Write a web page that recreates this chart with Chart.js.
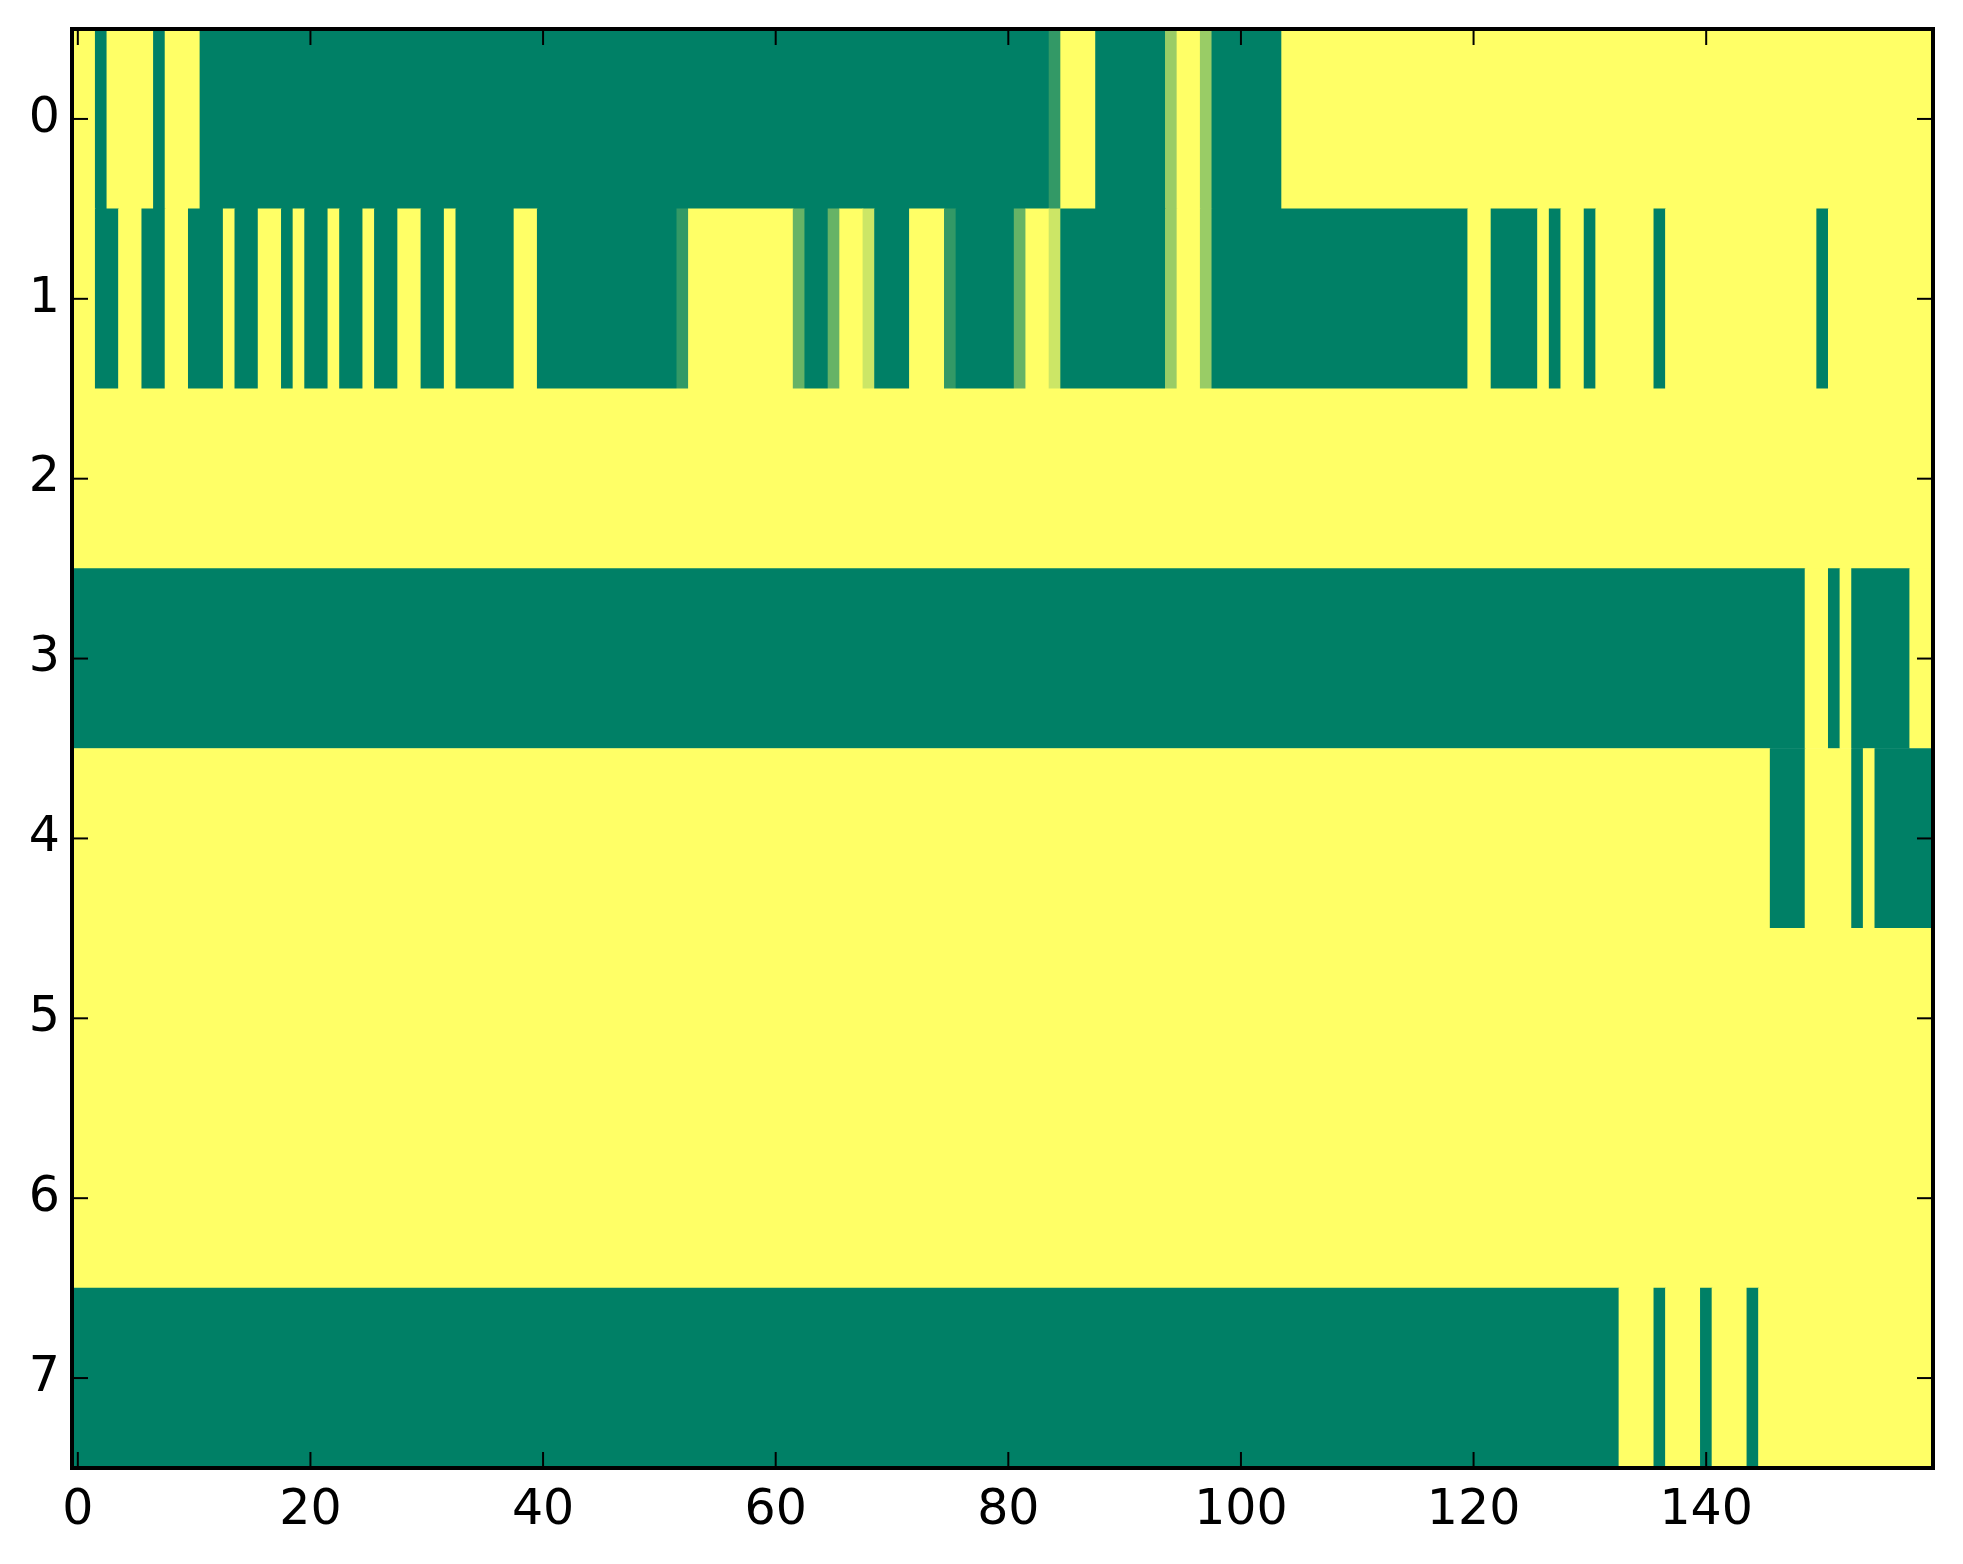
<!DOCTYPE html>
<html>
<head>
<meta charset="utf-8">
<script src="https://cdn.jsdelivr.net/npm/chart.js@4/dist/chart.umd.min.js"></script>
<style>
  html,body{margin:0;padding:0;background:#fff}
  #wrap{width:1963px;height:1564px;position:relative}
</style>
</head>
<body>
<div id="wrap"><canvas id="chart"></canvas></div>
<script>
// row / column labels
const ROW_LABELS = ['0','1','2','3','4','5','6','7'];
const X_TICKS = [0,20,40,60,80,100,120,140];

// cell values per row (160 columns, 0 = green ... 1 = yellow)
const ROW0 = [
  1,1,0,1,1,1,1,0,1,1, 1,0,0,0,0,0,0,0,0,0,
  0,0,0,0,0,0,0,0,0,0, 0,0,0,0,0,0,0,0,0,0,
  0,0,0,0,0,0,0,0,0,0, 0,0,0,0,0,0,0,0,0,0,
  0,0,0,0,0,0,0,0,0,0, 0,0,0,0,0,0,0,0,0,0,
  0,0,0,0,.2,1,1,1,0,0, 0,0,0,0,.6,1,1,.6,0,0,
  0,0,0,0,1,1,1,1,1,1, 1,1,1,1,1,1,1,1,1,1,
  1,1,1,1,1,1,1,1,1,1, 1,1,1,1,1,1,1,1,1,1,
  1,1,1,1,1,1,1,1,1,1, 1,1,1,1,1,1,1,1,1,1
];
const ROW1 = [
  1,1,0,0,1,1,0,0,1,1, 0,0,0,1,0,0,1,1,0,1,
  0,0,1,0,0,1,0,0,1,1, 0,0,1,0,0,0,0,0,1,1,
  0,0,0,0,0,0,0,0,0,0, 0,0,.2,1,1,1,1,1,1,1,
  1,1,.4,0,0,.4,1,1,.8,0, 0,0,1,1,1,.2,0,0,0,0,
  0,.4,1,1,.8,0,0,0,0,0, 0,0,0,0,.6,1,1,.6,0,0,
  0,0,0,0,0,0,0,0,0,0, 0,0,0,0,0,0,0,0,0,0,
  1,1,0,0,0,0,1,0,1,1, 0,1,1,1,1,1,0,1,1,1,
  1,1,1,1,1,1,1,1,1,1, 0,1,1,1,1,1,1,1,1,1
];
const ROW2 = [
  1,1,1,1,1,1,1,1,1,1, 1,1,1,1,1,1,1,1,1,1,
  1,1,1,1,1,1,1,1,1,1, 1,1,1,1,1,1,1,1,1,1,
  1,1,1,1,1,1,1,1,1,1, 1,1,1,1,1,1,1,1,1,1,
  1,1,1,1,1,1,1,1,1,1, 1,1,1,1,1,1,1,1,1,1,
  1,1,1,1,1,1,1,1,1,1, 1,1,1,1,1,1,1,1,1,1,
  1,1,1,1,1,1,1,1,1,1, 1,1,1,1,1,1,1,1,1,1,
  1,1,1,1,1,1,1,1,1,1, 1,1,1,1,1,1,1,1,1,1,
  1,1,1,1,1,1,1,1,1,1, 1,1,1,1,1,1,1,1,1,1
];
const ROW3 = [
  0,0,0,0,0,0,0,0,0,0, 0,0,0,0,0,0,0,0,0,0,
  0,0,0,0,0,0,0,0,0,0, 0,0,0,0,0,0,0,0,0,0,
  0,0,0,0,0,0,0,0,0,0, 0,0,0,0,0,0,0,0,0,0,
  0,0,0,0,0,0,0,0,0,0, 0,0,0,0,0,0,0,0,0,0,
  0,0,0,0,0,0,0,0,0,0, 0,0,0,0,0,0,0,0,0,0,
  0,0,0,0,0,0,0,0,0,0, 0,0,0,0,0,0,0,0,0,0,
  0,0,0,0,0,0,0,0,0,0, 0,0,0,0,0,0,0,0,0,0,
  0,0,0,0,0,0,0,0,0,1, 1,0,1,0,0,0,0,0,1,1
];
const ROW4 = [
  1,1,1,1,1,1,1,1,1,1, 1,1,1,1,1,1,1,1,1,1,
  1,1,1,1,1,1,1,1,1,1, 1,1,1,1,1,1,1,1,1,1,
  1,1,1,1,1,1,1,1,1,1, 1,1,1,1,1,1,1,1,1,1,
  1,1,1,1,1,1,1,1,1,1, 1,1,1,1,1,1,1,1,1,1,
  1,1,1,1,1,1,1,1,1,1, 1,1,1,1,1,1,1,1,1,1,
  1,1,1,1,1,1,1,1,1,1, 1,1,1,1,1,1,1,1,1,1,
  1,1,1,1,1,1,1,1,1,1, 1,1,1,1,1,1,1,1,1,1,
  1,1,1,1,1,1,0,0,0,1, 1,1,1,0,1,0,0,0,0,0
];
const ROW5 = ROW2.slice();
const ROW6 = ROW2.slice();
const ROW7 = [
  0,0,0,0,0,0,0,0,0,0, 0,0,0,0,0,0,0,0,0,0,
  0,0,0,0,0,0,0,0,0,0, 0,0,0,0,0,0,0,0,0,0,
  0,0,0,0,0,0,0,0,0,0, 0,0,0,0,0,0,0,0,0,0,
  0,0,0,0,0,0,0,0,0,0, 0,0,0,0,0,0,0,0,0,0,
  0,0,0,0,0,0,0,0,0,0, 0,0,0,0,0,0,0,0,0,0,
  0,0,0,0,0,0,0,0,0,0, 0,0,0,0,0,0,0,0,0,0,
  0,0,0,0,0,0,0,0,0,0, 0,0,0,1,1,1,0,1,1,1,
  0,1,1,1,0,1,1,1,1,1, 1,1,1,1,1,1,1,1,1,1
];
const ROWS = [ROW0,ROW1,ROW2,ROW3,ROW4,ROW5,ROW6,ROW7];

// matplotlib "summer" colormap
function summer(v){
  return `rgb(${Math.round(255*v)},${Math.round(255*(0.5+v/2))},102)`;
}

// one floating bar per run of equal cells, so no seams between same-colour cells
function buildBars(){
  const data = [], colors = [];
  ROWS.forEach((row, r)=>{
    let start = 0;
    for(let c=1;c<=row.length;c++){
      if(c===row.length || row[c]!==row[start]){
        data.push({y:ROW_LABELS[r], x:[start-0.5, c-0.5]});
        colors.push(summer(row[start]));
        start = c;
      }
    }
  });
  return {data, colors};
}

// inward ticks on all four sides + black frame
const framePlugin = {
  id:'frame',
  afterDraw(chart){
    const {ctx, chartArea:a, scales:{x, y}} = chart;
    const L = 16;
    const line = (x1,y1,x2,y2)=>{ ctx.beginPath(); ctx.moveTo(x1,y1); ctx.lineTo(x2,y2); ctx.stroke(); };
    ctx.save();
    ctx.strokeStyle = '#000';
    ctx.lineWidth = 2;
    X_TICKS.forEach(v=>{
      const px = x.getPixelForValue(v);
      line(px, a.bottom, px, a.bottom-L);
      line(px, a.top, px, a.top+L);
    });
    ROW_LABELS.forEach((lab, i)=>{
      const py = y.getPixelForValue(i);
      line(a.left, py, a.left+L, py);
      line(a.right, py, a.right-L, py);
    });
    ctx.lineWidth = 4;
    ctx.strokeRect(a.left, a.top, a.right-a.left, a.bottom-a.top);
    ctx.restore();
  }
};

const bars = buildBars();
const tickFont = {family:'DejaVu Sans', size:49};

new Chart(document.getElementById('chart'), {
  type:'bar',
  data:{
    labels:ROW_LABELS,
    datasets:[{
      data:bars.data,
      backgroundColor:bars.colors,
      borderWidth:0,
      barPercentage:1,
      categoryPercentage:1
    }]
  },
  options:{
    indexAxis:'y',
    responsive:true,
    maintainAspectRatio:false,
    animation:false,
    devicePixelRatio:1,
    layout:{padding:{top:29, right:30, left:0, bottom:0}},
    plugins:{legend:{display:false}, tooltip:{enabled:false}},
    scales:{
      x:{
        type:'linear', min:-0.5, max:159.5,
        grid:{display:false, drawTicks:false},
        border:{display:false},
        afterBuildTicks: s=>{ s.ticks = X_TICKS.map(v=>({value:v})); },
        afterFit: s=>{ s.height = 96; s.paddingLeft = 0; s.paddingRight = 0; },
        ticks:{color:'#000', font:tickFont, padding:14, maxRotation:0, autoSkip:false}
      },
      y:{
        type:'category',
        grid:{display:false, drawTicks:false},
        border:{display:false},
        afterFit: s=>{ s.width = 72; s.paddingTop = 0; s.paddingBottom = 0; },
        ticks:{color:'#000', font:tickFont, padding:12}
      }
    }
  },
  plugins:[framePlugin]
});
</script>
</body>
</html>
